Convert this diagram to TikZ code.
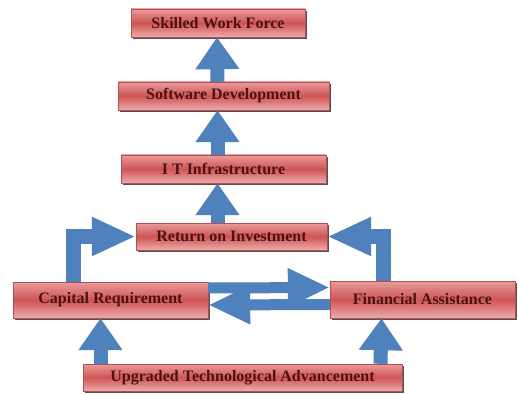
\documentclass[tikz,border=0pt]{standalone}
\usepackage{fontspec}
\setmainfont{Liberation Serif}
\usetikzlibrary{arrows.meta,shadows}

\definecolor{arrowblue}{RGB}{79,129,189}
\definecolor{boxtop}{RGB}{234,156,156}
\definecolor{boxmid}{RGB}{206,84,84}
\definecolor{boxbot}{RGB}{238,172,172}
\definecolor{boxline}{RGB}{176,80,80}
\definecolor{boxtext}{RGB}{78,18,18}

\begin{document}
\begin{tikzpicture}[x=1pt,y=-1pt]

\tikzset{StepBox/.style = {rectangle, draw=boxline, line width=.4pt,
                           top color=boxtop, bottom color=boxbot, middle color=boxmid,
                           text=boxtext, inner sep=0pt,
                           font=\fontsize{16}{19}\selectfont\bfseries,
                           drop shadow={shadow xshift=1.5pt, shadow yshift=-2pt,
                                        fill=black!75, opacity=.9}}}
\tikzset{UpArrow/.style   = {draw=arrowblue, line width=14pt,
                             -{Triangle[width=42pt,length=32pt]}}}
\tikzset{BentArrow/.style = {draw=arrowblue, line width=15pt, line join=miter,
                             -{Triangle[width=36pt,length=44pt]}}}
\tikzset{SideArrow/.style = {draw=arrowblue, line width=11pt,
                             -{Triangle[width=36pt,length=42pt]}}}

\useasboundingbox (0,0) rectangle (518,395);

\node[StepBox, minimum width=174pt, minimum height=28pt] (skill) at (218,23)    {Skilled Work Force};
\node[StepBox, minimum width=211pt, minimum height=28pt] (soft)  at (223.5,96)  {Software Development};
\node[StepBox, minimum width=205pt, minimum height=28pt] (it)    at (223.5,169) {I T Infrastructure};
\node[StepBox, minimum width=191pt, minimum height=27pt] (roi)   at (231.5,236.5) {Return on Investment};
\node[StepBox, minimum width=195pt, minimum height=36pt] (cap)   at (110.5,300) {Capital Requirement};
\node[StepBox, minimum width=185pt, minimum height=37pt] (fin)   at (422.5,299.5) {Financial Assistance};
\node[StepBox, minimum width=319pt, minimum height=27pt] (upg)   at (242.5,377.5) {Upgraded Technological Advancement};

\draw[UpArrow] ([xshift=-6pt]soft.north) -- ([xshift=-1pt]skill.south);
\draw[UpArrow] ([xshift=-6pt]it.north) -- ([xshift=-6pt]soft.south);
\draw[UpArrow] ([xshift=-14pt]roi.north) -- ([xshift=-6pt]it.south);

\draw[BentArrow] ([xshift=-37pt]cap.north) |- (roi.west);
\draw[BentArrow] ([xshift=-39pt]fin.north) |- (roi.east);

\draw[SideArrow] ([yshift=12pt]cap.east) -- ([yshift=12pt]fin.west);
\draw[SideArrow] ([yshift=-5pt]fin.west) -- ([yshift=-5pt]cap.east);

\draw[UpArrow] ([xshift=-142pt]upg.north) -- ([xshift=-10pt]cap.south);
\draw[UpArrow] ([xshift=138pt]upg.north) -- ([xshift=-41pt]fin.south);

\end{tikzpicture}
\end{document}
